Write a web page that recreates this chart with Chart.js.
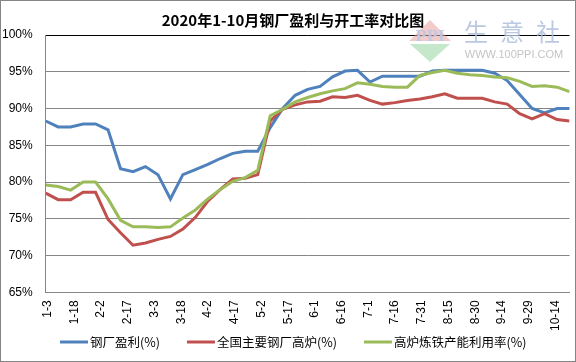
<!DOCTYPE html>
<html>
<head>
<meta charset="utf-8">
<script src="https://cdn.jsdelivr.net/npm/chart.js@4.4.0/dist/chart.umd.min.js"></script>
<style>
  html, body { margin: 0; padding: 0; background: #fff; }
  canvas { display: block; }
</style>
</head>
<body>
<canvas id="steelChart" width="576" height="362"></canvas>
<script>
// weekly data, 2020 (Fridays)
const dates = ['1-3', '1-10', '1-17', '1-24', '1-31', '2-7', '2-14', '2-21', '2-28',
  '3-6', '3-13', '3-20', '3-27', '4-3', '4-10', '4-17', '4-24', '5-1', '5-8', '5-15',
  '5-22', '5-29', '6-5', '6-12', '6-19', '6-26', '7-3', '7-10', '7-17', '7-24', '7-31',
  '8-7', '8-14', '8-21', '8-28', '9-4', '9-11', '9-18', '9-25', '10-2', '10-9', '10-16', '10-23'];

const profitRate = [88.3, 87.5, 87.5, 87.9, 87.9, 87.1, 81.8, 81.4, 82.1, 81.0, 77.7, 81.0,
  81.7, 82.4, 83.2, 83.9, 84.2, 84.2, 87.4, 90.0, 91.8, 92.6, 93.0, 94.3, 95.1, 95.2, 93.6,
  94.4, 94.4, 94.4, 94.4, 95.1, 95.2, 95.2, 95.2, 95.2, 94.8, 93.8, 91.9, 90.0, 89.4, 90.0, 90.0];

const furnaceRate = [78.5, 77.6, 77.6, 78.6, 78.6, 74.9, 73.1, 71.4, 71.7, 72.2, 72.6, 73.6,
  75.2, 77.4, 79.0, 80.4, 80.5, 81.0, 88.3, 89.9, 90.5, 90.9, 91.0, 91.6, 91.5, 91.8, 91.1,
  90.6, 90.8, 91.1, 91.3, 91.6, 92.0, 91.4, 91.4, 91.4, 90.9, 90.6, 89.3, 88.6, 89.3, 88.5, 88.3];

const capacityRate = [79.6, 79.4, 78.9, 80.0, 80.0, 77.7, 74.8, 73.9, 73.9, 73.8, 73.9, 75.1,
  76.2, 77.7, 79.0, 80.1, 80.6, 81.6, 89.0, 89.9, 90.9, 91.5, 92.0, 92.4, 92.7, 93.5, 93.3,
  93.0, 92.9, 92.9, 94.5, 94.9, 95.2, 94.8, 94.6, 94.5, 94.3, 94.2, 93.7, 93.0, 93.1, 92.9, 92.3];

const tickLabels = ['1-3', '1-18', '2-2', '2-17', '3-3', '3-18', '4-2', '4-17', '5-2', '5-17',
  '6-1', '6-16', '7-1', '7-16', '7-31', '8-15', '8-30', '9-14', '9-29', '10-14'];

// days since 1-3
function dayOf(label) {
  const [m, d] = label.split('-').map(Number);
  return (Date.UTC(2020, m - 1, d) - Date.UTC(2020, 0, 3)) / 86400000;
}

function points(values) {
  return dates.map((d, i) => ({ x: dayOf(d), y: values[i] }));
}

const tickDays = tickLabels.map(dayOf);

const decorPlugin = {
  id: 'decor',
  beforeDraw(chart) {
    const ctx = chart.ctx;
    ctx.save();
    ctx.fillStyle = '#fff';
    ctx.fillRect(0, 0, chart.width, chart.height);
    ctx.restore();
  },
  afterDraw(chart) {
    const ctx = chart.ctx;
    ctx.save();

    // title
    ctx.fillStyle = '#000';
    ctx.font = 'bold 15px "Noto Sans CJK SC"';
    ctx.textAlign = 'center';
    ctx.textBaseline = 'middle';
    ctx.fillText('2020年1-10月钢厂盈利与开工率对比图', 293, 20);

    // watermark
    ctx.fillStyle = 'rgba(235, 160, 160, 0.55)';
    ctx.beginPath();
    ctx.moveTo(430, 20); ctx.lineTo(451, 41); ctx.lineTo(409, 41); ctx.closePath();
    ctx.fill();
    ctx.fillStyle = 'rgba(190, 200, 225, 0.9)';
    ctx.font = 'bold 15px "DejaVu Serif"';
    ctx.fillText('PPI', 430, 37);
    ctx.fillStyle = 'rgba(190, 230, 195, 0.9)';
    ctx.beginPath();
    ctx.moveTo(410, 44); ctx.lineTo(450, 44); ctx.lineTo(430, 62); ctx.closePath();
    ctx.fill();
    ctx.fillStyle = 'rgba(175, 190, 220, 0.85)';
    ctx.font = '24px "Noto Sans CJK SC"';
    ctx.fillText('生', 476, 32);
    ctx.fillText('意', 512, 32);
    ctx.fillText('社', 548, 32);
    ctx.fillStyle = 'rgba(190, 190, 190, 0.9)';
    ctx.font = '11px "Liberation Sans"';
    ctx.fillText('WWW.100PPI.COM', 514, 55);

    // legend
    ctx.textAlign = 'left';
    ctx.font = '12.5px "Noto Sans CJK SC"';
    let x = 60;
    const y = 342;
    chart.data.datasets.forEach(ds => {
      ctx.strokeStyle = ds.borderColor;
      ctx.lineWidth = 3;
      ctx.beginPath();
      ctx.moveTo(x, y);
      ctx.lineTo(x + 28, y);
      ctx.stroke();
      ctx.fillStyle = '#000';
      ctx.fillText(ds.label, x + 30, y);
      x += 30 + ctx.measureText(ds.label).width + 27;
    });

    // outer border
    ctx.strokeStyle = '#868686';
    ctx.lineWidth = 1;
    ctx.strokeRect(0.5, 0.5, chart.width - 1, chart.height - 1);
    ctx.restore();
  }
};

new Chart(document.getElementById('steelChart'), {
  type: 'line',
  data: {
    datasets: [{
      label: '钢厂盈利(%)',
      data: points(profitRate),
      borderColor: '#4F81BD',
      backgroundColor: '#4F81BD',
      order: 2
    }, {
      label: '全国主要钢厂高炉(%)',
      data: points(furnaceRate),
      borderColor: '#C0504D',
      backgroundColor: '#C0504D',
      order: 1
    }, {
      label: '高炉炼铁产能利用率(%)',
      data: points(capacityRate),
      borderColor: '#9BBB59',
      backgroundColor: '#9BBB59',
      order: 0
    }]
  },
  options: {
    responsive: false,
    animation: false,
    devicePixelRatio: 1,
    layout: { padding: { top: 35, right: 3, left: 0, bottom: 0 } },
    elements: {
      line: { borderWidth: 3, tension: 0 },
      point: { radius: 0 }
    },
    plugins: {
      legend: { display: false },
      tooltip: { enabled: false }
    },
    scales: {
      x: {
        type: 'linear',
        min: 0,
        max: dayOf(dates[dates.length - 1]),
        afterBuildTicks: scale => {
          scale.ticks = tickDays.map(v => ({ value: v }));
        },
        afterFit: scale => { scale.height = 69.7; },
        grid: { display: false, drawTicks: false },
        border: { color: '#868686' },
        ticks: {
          autoSkip: false,
          minRotation: 90,
          maxRotation: 90,
          padding: 8,
          labelOffset: 2,
          color: '#000',
          font: { family: '"Liberation Sans"', size: 12 },
          callback: value => tickLabels[tickDays.indexOf(value)]
        }
      },
      y: {
        min: 65,
        max: 100,
        afterFit: scale => { scale.width = 45.7; },
        grid: {
          drawTicks: false,
          color: ctx => ctx.tick.value === 100 ? '#000' : '#868686'
        },
        border: { color: '#868686' },
        ticks: {
          stepSize: 5,
          padding: 13,
          color: '#000',
          font: { family: '"Liberation Sans"', size: 12 },
          callback: v => v + '%'
        }
      }
    }
  },
  plugins: [decorPlugin]
});
</script>
</body>
</html>
